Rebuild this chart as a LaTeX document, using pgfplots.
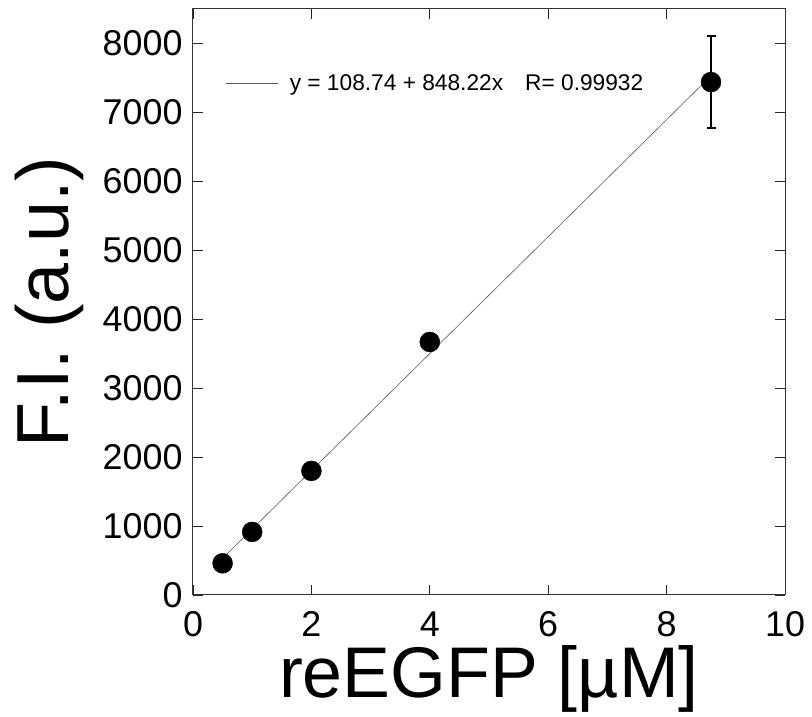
\documentclass[border=0pt]{standalone}
\usepackage{pgfplots}
\pgfplotsset{compat=1.18}
\usepackage{fontspec}
\setmainfont{Liberation Sans}
\begin{document}
\begin{tikzpicture}
\begin{axis}[
  scale only axis,
  width=592bp, height=586bp,
  xmin=0, xmax=10, ymin=0, ymax=8500,
  xtick={0,2,...,10},
  ytick={0,1000,...,8000},
  tick align=inside,
  major tick length=10bp,
  tick style={line width=0.8bp, color=black!85},
  axis line style={line width=1bp, color=black!80},
  /pgf/number format/assume math mode=true,
  /pgf/number format/1000 sep={},
  ticklabel style={font=\fontsize{36}{40}\selectfont},
  xticklabel style={yshift=-13bp},
  yticklabel style={xshift=-7bp},
  xlabel={reEGFP [µM]},
  ylabel={F.I. (a.u.)},
  xlabel style={font=\fontsize{72}{80}\selectfont, yshift=-2bp},
  ylabel style={font=\fontsize{74}{84}\selectfont, yshift=12bp},
  legend style={draw=none, fill=none, at={(0.0557,0.874)}, anchor=west,
    inner xsep=0pt, inner ysep=0pt, font=\fontsize{22.8}{26}\selectfont,
    nodes={inner sep=0pt}},
  legend image code/.code={\draw[#1] (0bp,0bp) -- (52bp,0bp);},
  /tikz/every odd column/.append style={column sep=11bp},
]
\coordinate (sw) at (rel axis cs:0,0);
\coordinate (ne) at (rel axis cs:1,1);
\addplot[black!65, line width=0.6bp] coordinates {(0.5,532.85) (8.75,7530.67)};
\addlegendentry{y = 108.74 + 848.22x\hspace{22bp}R= 0.99932}
\addplot[only marks, mark=*, mark size=10bp, black,
  error bars/.cd, y dir=both, y explicit,
  error bar style={line width=1.8bp, black},
  error mark options={rotate=90, mark size=4.5bp, line width=1.6bp, black}]
  coordinates {
  (0.5,460) +- (0,0)
  (1,915) +- (0,0)
  (2,1800) +- (0,0)
  (4,3670) +- (0,0)
  (8.75,7440) +- (0,665)
  };
\end{axis}
\pgfresetboundingbox
\path ([shift={(-193bp,-122bp)}]sw) rectangle ([shift={(27bp,9bp)}]ne);
\end{tikzpicture}
\end{document}
